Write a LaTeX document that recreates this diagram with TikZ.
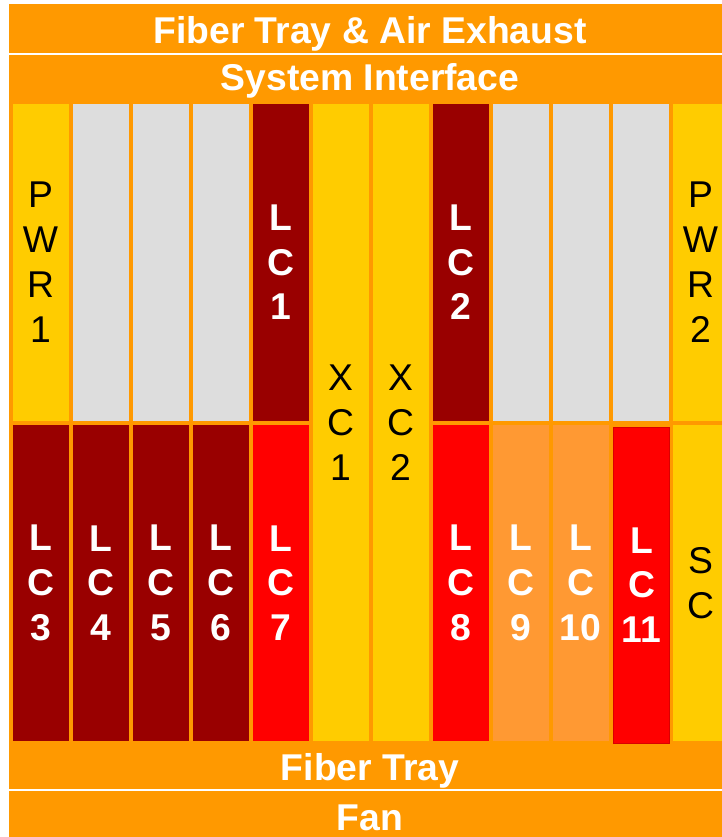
\documentclass[tikz,border=0pt]{standalone}
\usepackage{fontspec}
\setmainfont{Liberation Sans}
\definecolor{bandorange}{HTML}{FF9900}
\definecolor{slotyellow}{HTML}{FFCC00}
\definecolor{slotgrey}{HTML}{DDDDDD}
\definecolor{lcdark}{HTML}{990000}
\definecolor{lcred}{HTML}{FF0000}
\definecolor{lclight}{HTML}{FF9933}
\newcommand\slotfont{\fontsize{37.3}{44.8}\selectfont}

\begin{document}
\begin{tikzpicture}[x=1pt,y=-1pt,
  band/.style={fill=bandorange, inner sep=0pt, outer sep=0pt, minimum width=723.5pt},
  bandtext/.style={text=white, font=\slotfont\bfseries, inner sep=0pt, text height=26.7pt, text depth=0pt},
  slot/.style={inner sep=0pt, outer sep=0pt, minimum width=56pt, align=center},
  upper/.style={minimum height=316.5pt},
  lower/.style={minimum height=316pt},
  full/.style={minimum height=637pt},
  blank/.style={slot, upper, fill=slotgrey},
  module/.style={slot, fill=slotyellow, text=black, font=\slotfont},
  card/.style={slot, fill=#1, text=white, font=\slotfont\bfseries},
]
\useasboundingbox (0,0) rectangle (721,837);

% chassis bands
\node[band, minimum height=48.7pt] (exhaust) at (370.25,28.35) {};
\node[band, minimum height=734.3pt] (chassis) at (370.25,422.15) {};
\node[band, minimum height=53.7pt] (fanband) at (370.25,818.15) {};

\node[bandtext] (exhaustlabel) at (370,30.3) {Fiber Tray \& Air Exhaust};
\node[bandtext] (syslabel) at (370,77.3) {System Interface};
\node[bandtext] (traylabel) at (370,767.5) {Fiber Tray};
\node[bandtext] (fanlabel) at (370,817.5) {Fan};

% upper row
\node[module, upper] (pwr1) at (40.5,262.25) {P\\W\\R\\1};
\node[blank] (blank1) at (100.5,262.25) {};
\node[blank] (blank2) at (160.5,262.25) {};
\node[blank] (blank3) at (220.5,262.25) {};
\node[card=lcdark, upper] (lc1) at (280.5,262.25) {L\\C\\1};
\node[card=lcdark, upper] (lc2) at (460.5,262.25) {L\\C\\2};
\node[blank] (blank4) at (520.5,262.25) {};
\node[blank] (blank5) at (580.5,262.25) {};
\node[blank] (blank6) at (640.5,262.25) {};
\node[module, upper] (pwr2) at (700.5,262.25) {P\\W\\R\\2};

% cross-connect cards, full height
\node[module, full] (xc1) at (340.5,422.5) {X\\C\\1};
\node[module, full] (xc2) at (400.5,422.5) {X\\C\\2};

% lower row
\node[card=lcdark, lower] (lc3) at (40.5,583) {L\\C\\3};
\node[card=lcdark, lower] (lc4) at (100.5,583) {L\\C\\4};
\node[card=lcdark, lower] (lc5) at (160.5,583) {L\\C\\5};
\node[card=lcdark, lower] (lc6) at (220.5,583) {L\\C\\6};
\node[card=lcred, lower] (lc7) at (280.5,583) {L\\C\\7};
\node[card=lcred, lower] (lc8) at (460.5,583) {L\\C\\8};
\node[card=lclight, lower] (lc9) at (520.5,583) {L\\C\\9};
\node[card=lclight, lower] (lc10) at (580.5,583) {L\\C\\10};
\node[card=lcred, lower, draw=lcred!85!black, line width=0.8pt] (lc11) at (641.5,585) {L\\C\\11};
\node[module, lower] (sc) at (700.5,583) {S\\C};
\end{tikzpicture}
\end{document}
